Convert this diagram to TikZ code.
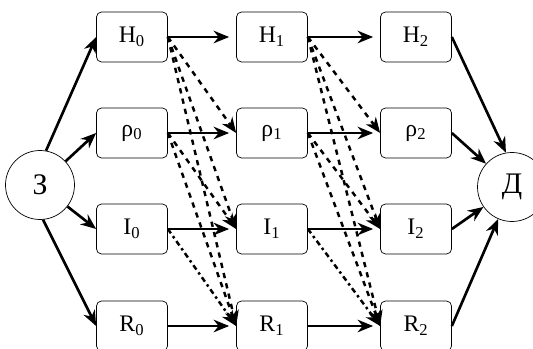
\documentclass[tikz,border=0pt]{standalone}
\usepackage{fontspec}
\setmainfont{Liberation Serif}
\usetikzlibrary{arrows.meta}

\tikzset{
  box/.style={draw,thin,rounded corners=1mm,minimum width=14.2mm,minimum height=10mm,
    inner sep=1pt,font=\fontsize{13.5}{15}\selectfont},
  state/.style={draw,thin,circle,minimum size=13.8mm,inner sep=0pt,font=\fontsize{17}{19}\selectfont},
  flow/.style={-{Stealth[length=3.1mm,width=2.5mm,inset=1mm]},line width=1.5pt},
  step flow/.style={flow,shorten >=1.4mm},
  jump/.style={flow,line width=1.4pt,dashed},
  jumpdd/.style={flow,line width=1.4pt,dash dot},
}

\begin{document}
\begin{tikzpicture}[x=0.2mm,y=0.2mm]
  \useasboundingbox (0,0) rectangle (533,348);
  % source and sink
  \node[state] (Z) at (40,163) {З};
  \node[state] (D) at (512,161) {Д};

  % column 0
  \node[box] (H0) at (132,311) {H\textsubscript{0}};
  \node[box] (rho0) at (132,215) {ρ\textsubscript{0}};
  \node[box] (I0) at (132,119) {I\textsubscript{0}};
  \node[box] (R0) at (132,22) {R\textsubscript{0}};

  % column 1
  \node[box] (H1) at (272,311) {H\textsubscript{1}};
  \node[box] (rho1) at (272,215) {ρ\textsubscript{1}};
  \node[box] (I1) at (272,119) {I\textsubscript{1}};
  \node[box] (R1) at (272,22) {R\textsubscript{1}};

  % column 2
  \node[box] (H2) at (416,311) {H\textsubscript{2}};
  \node[box] (rho2) at (416,215) {ρ\textsubscript{2}};
  \node[box] (I2) at (416,119) {I\textsubscript{2}};
  \node[box] (R2) at (416,22) {R\textsubscript{2}};

  % into the first column
  \draw[flow] (Z.80) -- (H0.west);
  \draw[flow] (Z) -- (rho0.west);
  \draw[flow] (Z) -- (I0.west);
  \draw[flow] (Z.-85) -- (R0.west);

  % same state, next step
  \draw[step flow] (H0.east) -- (H1.west);
  \draw[step flow] (rho0.east) -- (rho1.west);
  \draw[step flow] (I0.east) -- (I1.west);
  \draw[step flow] (R0.east) -- (R1.west);
  \draw[step flow] (H1.east) -- (H2.west);
  \draw[step flow] (rho1.east) -- (rho2.west);
  \draw[step flow] (I1.east) -- (I2.west);
  \draw[step flow] (R1.east) -- (R2.west);

  % transitions 0 -> 1
  \draw[jump] (H0.east) -- (rho1.west);
  \draw[jump] (H0.east) -- (I1.west);
  \draw[jump] (H0.east) -- (R1.west);
  \draw[jump] (rho0.east) -- (I1.west);
  \draw[jump] (rho0.east) -- (R1.west);
  \draw[jumpdd] (I0.east) -- (R1.west);

  % transitions 1 -> 2
  \draw[jump] (H1.east) -- (rho2.west);
  \draw[jump] (H1.east) -- (I2.west);
  \draw[jump] (H1.east) -- (R2.west);
  \draw[jump] (rho1.east) -- (I2.west);
  \draw[jump] (rho1.east) -- (R2.west);
  \draw[jumpdd] (I1.east) -- (R2.west);

  % out of the last column
  \draw[flow] (H2.east) -- (D.100);
  \draw[flow] (rho2.east) -- (D);
  \draw[flow] (I2.east) -- (D);
  \draw[flow] (R2.east) -- (D);
\end{tikzpicture}
\end{document}
